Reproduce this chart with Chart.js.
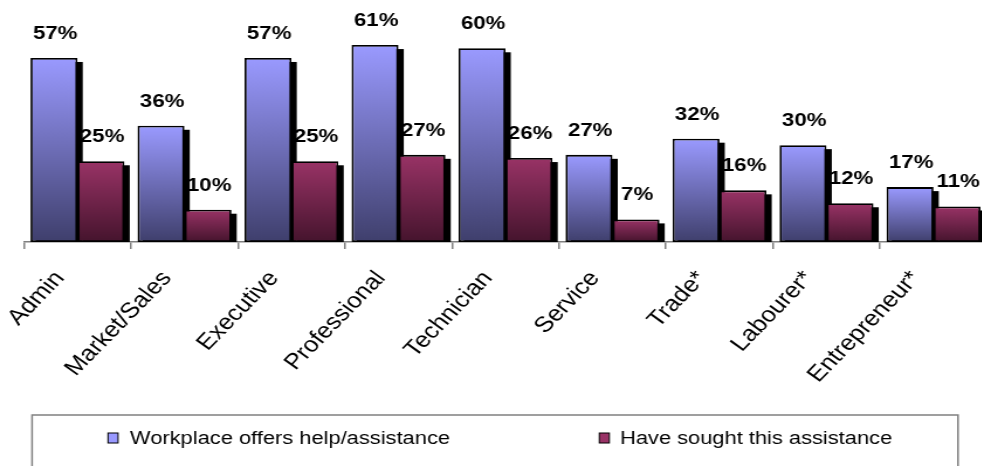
<!DOCTYPE html>
<html lang="en">

<head>
    <meta charset="UTF-8">
    <title>Workplace help by occupation</title>
    <script src="https://cdn.jsdelivr.net/npm/chart.js"></script>
    <style>
        html, body { margin: 0; padding: 0; background: #fff; overflow: hidden; }
        /* the whole chart is drawn narrow and stretched sideways */
        #helpChart { display: block; transform: scaleX(1.17); transform-origin: 0 0; }
    </style>
</head>

<body>
    <canvas id="helpChart" width="846" height="466"></canvas>

    <script>
        const categories = ['Admin', 'Market/Sales', 'Executive', 'Professional', 'Technician', 'Service', 'Trade*', 'Labourer*', 'Entrepreneur*'];
        const offersHelp = [57, 36, 57, 61, 60, 27, 32, 30, 17];
        const soughtHelp = [25, 10, 25, 27, 26, 7, 16, 12, 11];
        const seriesNames = ['Workplace offers help/assistance', 'Have sought this assistance'];

        const FONT = 'Liberation Sans, Arial, sans-serif';

        // vertical gradient per bar, from the base colour at the top to a dark shade at the axis
        function barGradient(top, bottom) {
            return function (ctx) {
                const chart = ctx.chart;
                if (!chart.chartArea || ctx.type !== 'data') return top;
                const y = chart.scales.y;
                const yTop = y.getPixelForValue(ctx.raw);
                const yBase = y.getPixelForValue(0);
                const g = chart.ctx.createLinearGradient(0, yTop, 0, yBase);
                g.addColorStop(0, top);
                g.addColorStop(1, bottom);
                return g;
            };
        }

        // black drop shadow behind every bar
        const barShadow = {
            id: 'barShadow',
            beforeDatasetsDraw(chart) {
                const ctx = chart.ctx;
                ctx.save();
                ctx.fillStyle = '#000';
                chart.data.datasets.forEach((ds, i) => {
                    chart.getDatasetMeta(i).data.forEach(bar => {
                        const { x, y, base, width } = bar.getProps(['x', 'y', 'base', 'width'], true);
                        ctx.fillRect(x - width / 2 + 4.5, y + 4, width, base - y - 4);
                    });
                });
                ctx.restore();
            }
        };

        // percentage above each bar
        const valueLabels = {
            id: 'valueLabels',
            afterDatasetsDraw(chart) {
                const ctx = chart.ctx;
                ctx.save();
                ctx.font = 'bold 19px ' + FONT;
                ctx.fillStyle = '#000';
                ctx.textAlign = 'center';
                ctx.textBaseline = 'alphabetic';
                chart.data.datasets.forEach((ds, i) => {
                    chart.getDatasetMeta(i).data.forEach((bar, j) => {
                        ctx.fillText(ds.data[j] + '%', bar.x + 1, bar.y - 19);
                    });
                });
                ctx.restore();
            }
        };

        // boxed legend along the bottom edge
        const boxLegend = {
            id: 'boxLegend',
            afterDraw(chart) {
                const ctx = chart.ctx;
                ctx.save();
                ctx.strokeStyle = '#808080';
                ctx.lineWidth = 1.5;
                ctx.strokeRect(27.4, 415, 791.4, 70);
                const items = [[92.3, 111.1], [512.2, 529.9]];
                ctx.font = '18.7px ' + FONT;
                ctx.textBaseline = 'middle';
                ctx.textAlign = 'left';
                chart.data.datasets.forEach((ds, i) => {
                    const [bx, tx] = items[i];
                    ctx.fillStyle = ds.legendColor;
                    ctx.fillRect(bx, 433, 8.6, 10);
                    ctx.strokeStyle = '#000';
                    ctx.lineWidth = 1;
                    ctx.strokeRect(bx, 433, 8.6, 10);
                    ctx.fillStyle = '#000';
                    ctx.fillText(ds.label, tx, 438.5);
                });
                ctx.restore();
            }
        };

        new Chart(document.getElementById('helpChart'), {
            type: 'bar',
            data: {
                labels: categories,
                datasets: [{
                    label: seriesNames[0],
                    data: offersHelp,
                    legendColor: '#9999FF',
                    backgroundColor: barGradient('#9A9AFF', '#3F3F6C'),
                    borderColor: '#000',
                    borderWidth: 1.8,
                    borderSkipped: false,
                    barPercentage: 1,
                    categoryPercentage: 0.878
                }, {
                    label: seriesNames[1],
                    data: soughtHelp,
                    legendColor: '#993366',
                    backgroundColor: barGradient('#993366', '#45142D'),
                    borderColor: '#000',
                    borderWidth: 1.8,
                    borderSkipped: false,
                    barPercentage: 1,
                    categoryPercentage: 0.878
                }]
            },
            options: {
                responsive: false,
                animation: false,
                layout: { padding: { left: 20.5, right: 2.4, top: 16, bottom: 0 } },
                plugins: {
                    legend: { display: false },
                    tooltip: { enabled: false }
                },
                scales: {
                    x: {
                        grid: { offset: true, drawOnChartArea: false, drawTicks: true, tickLength: 7, color: '#808080', lineWidth: 1.5 },
                        border: { color: '#808080', width: 1.5 },
                        ticks: {
                            color: '#000',
                            font: { family: FONT, size: 22 },
                            maxRotation: 50,
                            minRotation: 50,
                            padding: 17,
                            labelOffset: -15
                        },
                        afterFit(scale) { scale.height = 224; }
                    },
                    y: {
                        display: false,
                        min: 0,
                        max: 70
                    }
                }
            },
            plugins: [barShadow, valueLabels, boxLegend]
        });
    </script>
</body>

</html>
